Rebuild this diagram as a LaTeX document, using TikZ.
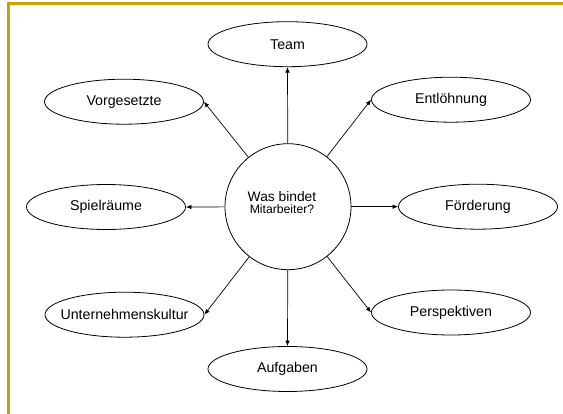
\documentclass[tikz,border=0pt]{standalone}
\usepackage{fontspec}
\setmainfont{Liberation Sans}
\usetikzlibrary{shapes.geometric,arrows.meta}
\definecolor{framegold}{RGB}{201,161,0}
\newcommand{\fixw}[1]{\makebox[0pt]{#1}}
\begin{document}
\begin{tikzpicture}[x=1pt,y=-1pt,
  leaf/.style={draw=black,line width=0.8pt,ellipse,minimum width=159pt,minimum height=45pt,inner sep=0pt,font=\fontsize{14.2}{16}\selectfont},
  hub/.style={draw=black,line width=0.8pt,circle,minimum size=126pt,inner sep=0pt},
  hubtext/.style={align=center,inner sep=0pt},
  link/.style={draw=black,line width=0.7pt,-{Latex[length=5.5pt,width=4.5pt]}},
  frameline/.style={draw=framegold,line width=2.6pt,line cap=butt,line join=miter}]
\useasboundingbox (0,0) rectangle (563,414);
% frame
\coordinate (fr1) at (563,3.7);
\coordinate (fr2) at (8.7,3.7);
\coordinate (fr3) at (8.7,414);
\draw[frameline] (fr1) -- (fr2) -- (fr3);
% nodes
\node[hub] (hub) at (288,206.7) {};
\node[hubtext] (hubt) at (282,203) {\fontsize{13.8}{16.7}\selectfont Was bindet\\\fontsize{12.2}{16.7}\selectfont Mitarbeiter?};
\node[leaf] (team) at (287.5,44.2) {\fixw{Team}};
\node[leaf] (vorg) at (124,101.7) {\fixw{Vorgesetzte}};
\node[leaf] (entl) at (451,99.7) {\fixw{Entlöhnung}};
\node[leaf] (spiel) at (106,207) {\fixw{Spielräume}};
\node[leaf] (foerd) at (478,206.7) {\fixw{Förderung}};
\node[leaf] (unter) at (124.5,314.7) {\fixw{Unternehmenskultur}};
\node[leaf] (persp) at (451,312.5) {\fixw{Perspektiven}};
\node[leaf] (aufg) at (287.5,369) {\fixw{Aufgaben}};
% connectors
\draw[link] (hub) -- (team.south);
\draw[link] (hub) -- (vorg.east);
\draw[link] (hub) -- (entl.west);
\draw[link] (hub) -- (spiel.east);
\draw[link] (hub) -- (foerd.west);
\draw[link] (hub) -- (unter.east);
\draw[link] (hub) -- (persp.west);
\draw[link] (hub) -- (aufg.north);
\end{tikzpicture}
\end{document}
